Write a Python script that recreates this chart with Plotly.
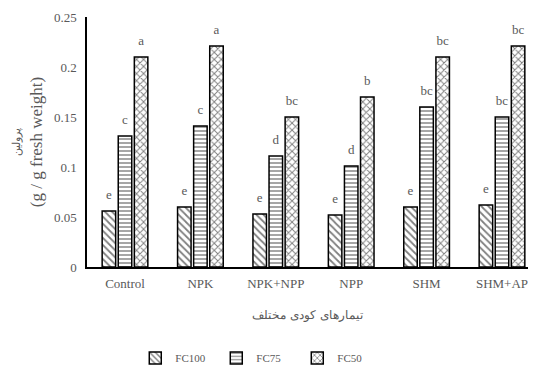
import plotly.graph_objects as go

categories = ["Control", "NPK", "NPK+NPP", "NPP", "SHM", "SHM+AP"]
fc100 = [0.056, 0.060, 0.053, 0.052, 0.060, 0.062]
fc75 = [0.131, 0.141, 0.111, 0.101, 0.160, 0.150]
fc50 = [0.210, 0.221, 0.150, 0.170, 0.210, 0.221]
fc100_letters = ["e", "e", "e", "e", "e", "e"]
fc75_letters = ["c", "c", "d", "d", "bc", "bc"]
fc50_letters = ["a", "a", "bc", "b", "bc", "bc"]
series_names = ["FC100", "FC75", "FC50"]
y_ticks = [0, 0.05, 0.1, 0.15, 0.2, 0.25]
y_tick_labels = ["0", "0.05", "0.1", "0.15", "0.2", "0.25"]

font_family = "Liberation Serif"
gray = "#595959"

series = [
    (series_names[0], fc100, fc100_letters, "\\", 5),
    (series_names[1], fc75, fc75_letters, "-", 4),
    (series_names[2], fc50, fc50_letters, "x", 5),
]

fig = go.Figure()
for i, (name, vals, letters, shape, psize) in enumerate(series):
    fig.add_trace(go.Bar(
        name=name, x=categories, y=vals, offsetgroup=str(i),
        marker=dict(color="white",
                    line=dict(color="black", width=1.5),
                    pattern=dict(shape=shape, fgcolor="black", bgcolor="white",
                                 size=psize, solidity=0.35)),
    ))
for i, (name, vals, letters, shape, psize) in enumerate(series):
    fig.add_trace(go.Scatter(
        x=categories, y=vals, offsetgroup=str(i), mode="markers+text",
        marker=dict(size=12, color="rgba(0,0,0,0)"),
        text=letters, textposition="top center", showlegend=False,
        cliponaxis=False, hoverinfo="skip",
        textfont=dict(family=font_family, size=13, color=gray),
    ))

fig.update_layout(
    width=520, height=357,
    margin=dict(l=79, r=0, t=9, b=98, autoexpand=False),
    paper_bgcolor="white", plot_bgcolor="white",
    barmode="group", bargap=0.36, bargroupgap=0.16,
    scattermode="group", scattergap=0.36,
    font=dict(family=font_family, color=gray, size=13),
    showlegend=True,
    legend=dict(orientation="h", x=0.385, xanchor="center", y=-0.364, yanchor="middle",
                font=dict(family=font_family, size=11, color=gray),
                itemwidth=30, entrywidth=36, traceorder="normal"),
)
fig.update_xaxes(
    range=[-0.504, 5.345], showline=True, linecolor="black", linewidth=1.5,
    ticks="", showgrid=False, automargin=False, ticklabelstandoff=4,
    tickfont=dict(family=font_family, size=13, color=gray),
    title=dict(text="تیمارهای کودی مختلف", standoff=20,
               font=dict(family="DejaVu Serif", size=12, color=gray)),
)
fig.update_yaxes(
    range=[0, 0.25], showline=True, linecolor="black", linewidth=1.5,
    ticks="", showgrid=False, zeroline=False, automargin=False,
    ticklabelstandoff=6,
    tickvals=y_ticks, ticktext=y_tick_labels,
    tickfont=dict(family=font_family, size=13, color=gray),
    title=dict(text="<span style='font-size:11px'>پرولین</span><br>(g / g fresh weight)",
               standoff=7,
               font=dict(family=font_family, size=17, color=gray)),
)
fig.write_html("out.html")
